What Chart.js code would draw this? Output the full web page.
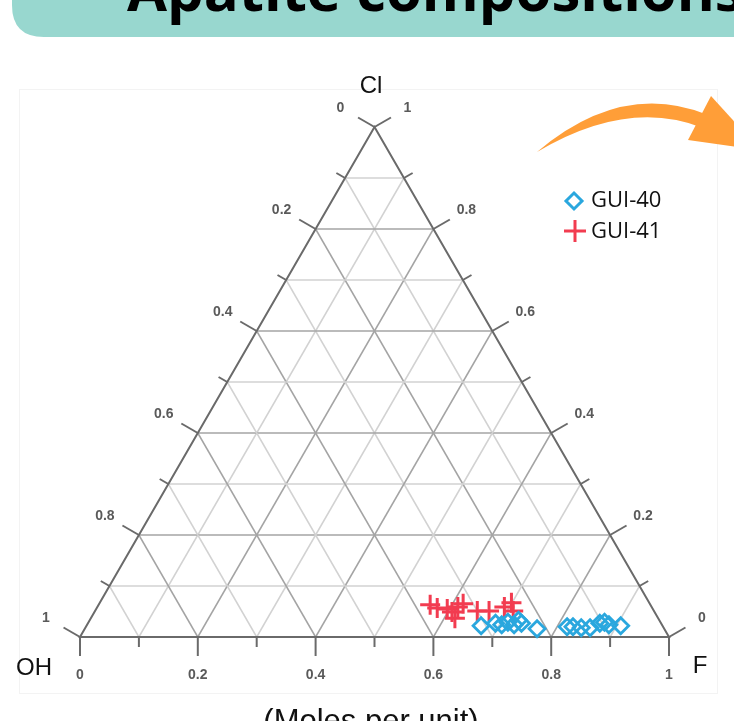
<!DOCTYPE html>
<html>
<head>
<meta charset="utf-8">
<script src="https://cdn.jsdelivr.net/npm/chart.js@4/dist/chart.umd.min.js"></script>
<style>
  html, body { margin: 0; padding: 0; background: #fff; }
  #wrap { width: 734px; height: 721px; position: relative; }
</style>
</head>
<body>
<div id="wrap"><canvas id="ternary"></canvas></div>
<script>
// compositions (mole fractions, OH = 1 - Cl - F)
const gui40Cl = [0.022, 0.027, 0.024, 0.029, 0.024, 0.033, 0.027, 0.016, 0.020, 0.020, 0.018, 0.018, 0.027, 0.029, 0.024, 0.022];
const gui40F  = [0.670, 0.692, 0.704, 0.712, 0.725, 0.728, 0.736, 0.768, 0.817, 0.827, 0.842, 0.857, 0.869, 0.876, 0.886, 0.907];
const gui41Cl = [0.063, 0.057, 0.055, 0.049, 0.059, 0.065, 0.037, 0.051, 0.051, 0.059, 0.067, 0.051];
const gui41F  = [0.563, 0.578, 0.596, 0.607, 0.612, 0.618, 0.618, 0.649, 0.669, 0.691, 0.699, 0.710];

const seriesNames = ["GUI-40", "GUI-41"];
const axisTicks = [0, 0.2, 0.4, 0.6, 0.8, 1];
const bottomLabels = ["0", "0.2", "0.4", "0.6", "0.8", "1"];   // F
const leftLabels = ["1", "0.8", "0.6", "0.4", "0.2", "0"];     // OH
const rightLabels = ["0", "0.2", "0.4", "0.6", "0.8", "1"];    // Cl

const H = Math.sqrt(3) / 2;
const BLUE = "#2aa7de";
const RED = "#f23c50";

function toXY(cl, f) {
    return { x: f + cl / 2, y: cl * H };
}

function points(clArr, fArr) {
    return clArr.map((cl, i) => toXY(cl, fArr[i]));
}

const ternaryPlugin = {
    id: "ternary",
    beforeDraw(chart) {
        const ctx = chart.ctx;
        ctx.save();
        // faint border of the picture
        ctx.strokeStyle = "#f3f3f3";
        ctx.lineWidth = 1;
        ctx.strokeRect(19.5, 89.5, 698, 604);

        // title banner
        ctx.fillStyle = "#98d7cf";
        ctx.beginPath();
        ctx.moveTo(12, -10);
        ctx.lineTo(760, -10);
        ctx.lineTo(760, 37);
        ctx.lineTo(44, 37);
        ctx.quadraticCurveTo(12, 37, 12, 5);
        ctx.closePath();
        ctx.fill();
        ctx.fillStyle = "#000";
        ctx.font = "bold 58px 'Open Sans'";
        ctx.textBaseline = "alphabetic";
        ctx.textAlign = "left";
        ctx.fillText("Apatite compositions", 127, 11);

        // orange arrow
        ctx.fillStyle = "#ff9e38";
        ctx.beginPath();
        ctx.moveTo(537, 152);
        ctx.quadraticCurveTo(622, 80, 708, 115);
        ctx.lineTo(703, 128);
        ctx.quadraticCurveTo(628, 98, 537, 152);
        ctx.closePath();
        ctx.fill();
        ctx.beginPath();
        ctx.moveTo(711, 96);
        ctx.lineTo(688, 140);
        ctx.lineTo(760, 150);
        ctx.closePath();
        ctx.fill();
        ctx.restore();
    },
    beforeDatasetsDraw(chart) {
        const ctx = chart.ctx;
        const sx = chart.scales.x, sy = chart.scales.y;
        const px = (cl, f) => {
            const p = toXY(cl, f);
            return [sx.getPixelForValue(p.x), sy.getPixelForValue(p.y)];
        };
        const seg = (a, b) => {
            ctx.beginPath();
            ctx.moveTo(a[0], a[1]);
            ctx.lineTo(b[0], b[1]);
            ctx.stroke();
        };
        ctx.save();
        // grid, every 0.1
        for (let k = 1; k < 10; k++) {
            const v = k / 10;
            ctx.strokeStyle = k % 2 === 0 ? "#a4a4a4" : "#d2d2d2";
            ctx.lineWidth = 1.5;
            seg(px(v, 0), px(v, 1 - v));          // constant Cl
            seg(px(0, v), px(1 - v, v));          // constant F
            seg(px(0, 1 - v), px(1 - v, 0));      // constant OH
        }
        // edges
        ctx.strokeStyle = "#6a6a6a";
        ctx.lineWidth = 2;
        ctx.beginPath();
        const A = px(0, 0), B = px(0, 1), C = px(1, 0);
        ctx.moveTo(A[0], A[1]);
        ctx.lineTo(B[0], B[1]);
        ctx.lineTo(C[0], C[1]);
        ctx.closePath();
        ctx.stroke();

        // ticks and labels
        ctx.font = "bold 14px 'Liberation Sans'";
        ctx.fillStyle = "#5a5a5a";
        ctx.textAlign = "center";
        ctx.textBaseline = "middle";
        const c30 = Math.cos(Math.PI / 6), s30 = 0.5;
        for (let k = 0; k <= 10; k++) {
            const v = k / 10;
            const len = k % 2 === 0 ? 19 : 10;
            // bottom (F)
            let p = px(0, v);
            seg(p, [p[0], p[1] + len]);
            // left (OH)
            p = px(v, 0);
            seg(p, [p[0] - c30 * len, p[1] - s30 * len]);
            // right (Cl)
            p = px(v, 1 - v);
            seg(p, [p[0] + c30 * len, p[1] - s30 * len]);
        }
        axisTicks.forEach((t, i) => {
            let p = px(0, t);
            ctx.fillText(bottomLabels[i], p[0], p[1] + 38);
            p = px(t, 0);
            ctx.fillText(leftLabels[i], p[0] - 34, p[1] - 19);
            p = px(t, 1 - t);
            ctx.fillText(rightLabels[i], p[0] + 33, p[1] - 19);
        });

        // corner labels
        ctx.fillStyle = "#111";
        ctx.font = "24px 'Liberation Sans'";
        ctx.fillText("Cl", 371, 86);
        ctx.fillText("OH", 34, 668);
        ctx.fillText("F", 700, 666);
        ctx.restore();
    },
    afterDraw(chart) {
        const ctx = chart.ctx;
        ctx.save();
        // legend
        ctx.lineWidth = 3;
        ctx.strokeStyle = BLUE;
        ctx.beginPath();
        ctx.moveTo(574, 193);
        ctx.lineTo(582, 201);
        ctx.lineTo(574, 209);
        ctx.lineTo(566, 201);
        ctx.closePath();
        ctx.stroke();
        ctx.strokeStyle = RED;
        ctx.beginPath();
        ctx.moveTo(564, 231);
        ctx.lineTo(586, 231);
        ctx.moveTo(575, 220);
        ctx.lineTo(575, 242);
        ctx.stroke();
        ctx.fillStyle = "#111";
        ctx.font = "22px 'Open Sans'";
        ctx.textAlign = "left";
        ctx.textBaseline = "middle";
        ctx.fillText(seriesNames[0], 591, 201);
        ctx.fillText(seriesNames[1], 591, 232);

        // axis note
        ctx.font = "31px 'Liberation Sans'";
        ctx.textAlign = "center";
        ctx.textBaseline = "alphabetic";
        ctx.fillText("(Moles per unit)", 371, 731);
        ctx.restore();
    }
};

new Chart(document.getElementById("ternary"), {
    type: "scatter",
    data: {
        datasets: [
            {
                label: seriesNames[0],
                data: points(gui40Cl, gui40F),
                pointStyle: "rectRot",
                radius: 8,
                borderWidth: 2.8,
                borderColor: BLUE,
                backgroundColor: "rgba(255,255,255,0)"
            },
            {
                label: seriesNames[1],
                data: points(gui41Cl, gui41F),
                pointStyle: "cross",
                radius: 10,
                borderWidth: 3,
                borderColor: RED,
                backgroundColor: RED
            }
        ]
    },
    options: {
        responsive: true,
        maintainAspectRatio: false,
        animation: false,
        clip: false,
        layout: { padding: { left: 80, right: 65, top: 127, bottom: 84 } },
        scales: {
            x: { type: "linear", min: 0, max: 1, display: false },
            y: { type: "linear", min: 0, max: H, display: false }
        },
        plugins: {
            legend: { display: false },
            tooltip: { enabled: false }
        }
    },
    plugins: [ternaryPlugin]
});
</script>
</body>
</html>
